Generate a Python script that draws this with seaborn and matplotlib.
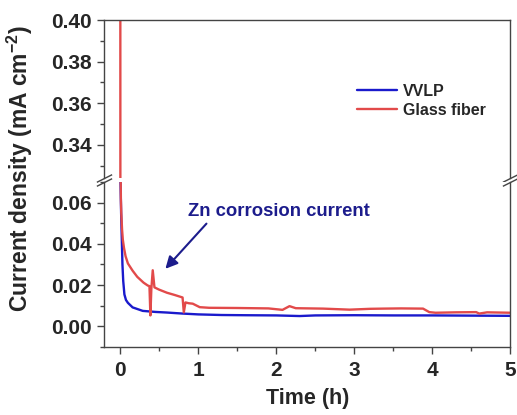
import pandas as pd
import seaborn as sns
import matplotlib.pyplot as plt
from matplotlib.ticker import MultipleLocator

# VVLP separator (blue)
time_vvlp = [0.0, 0.013, 0.022, 0.03, 0.04, 0.055, 0.075, 0.1, 0.16, 0.29, 0.45,
             0.6, 0.8, 1.0, 1.3, 1.6, 2.0, 2.3, 2.5, 3.0, 3.5, 4.0, 4.5, 5.0]
cur_vvlp = [0.08, 0.055, 0.042, 0.030, 0.022, 0.0155, 0.0128, 0.0114, 0.0092, 0.0075, 0.0070,
            0.0067, 0.0062, 0.0058, 0.0055, 0.0054, 0.0053, 0.0050, 0.0053, 0.0054, 0.0053, 0.0053, 0.0052, 0.0051]

# Glass fiber separator (red)
time_gf = [0.0, 0.005, 0.01, 0.015, 0.025, 0.035, 0.05, 0.07, 0.1, 0.16, 0.22, 0.3, 0.354,
           0.376, 0.388, 0.40, 0.418, 0.44, 0.5, 0.6, 0.7, 0.80, 0.816, 0.837, 0.88, 0.93,
           1.02, 1.14, 1.5, 1.9, 2.08, 2.17, 2.25, 2.6, 2.94, 3.2, 3.37, 3.6, 3.88, 3.96,
           4.04, 4.3, 4.56, 4.6, 4.7, 5.0]
cur_gf = [0.9, 0.08, 0.062, 0.055, 0.047, 0.042, 0.038, 0.034, 0.0305, 0.027, 0.0240, 0.0212, 0.0198,
          0.0195, 0.0053, 0.018, 0.0272, 0.0189, 0.0178, 0.0163, 0.0152, 0.0140, 0.0068, 0.0116, 0.0112, 0.0110,
          0.0093, 0.0090, 0.0089, 0.0087, 0.0080, 0.0098, 0.0088, 0.0086, 0.0081, 0.0085, 0.0086, 0.0087, 0.0086, 0.0069,
          0.0066, 0.0068, 0.0069, 0.0062, 0.0068, 0.0066]

sample_names = ["VVLP", "Glass fiber"]
sample_colors = ["#1a1acc", "#e24a4a"]

top_ticks = [0.34, 0.36, 0.38, 0.40]
bot_ticks = [0.00, 0.02, 0.04, 0.06]
x_ticks = [0, 1, 2, 3, 4, 5]

df = pd.concat([
    pd.DataFrame({"time": time_vvlp, "current": cur_vvlp, "sample": sample_names[0]}),
    pd.DataFrame({"time": time_gf, "current": cur_gf, "sample": sample_names[1]}),
])

sns.set_style("ticks")
plt.rcParams['font.family'] = ['Liberation Sans', 'DejaVu Sans']
plt.rcParams['font.weight'] = 'bold'
plt.rcParams['axes.labelweight'] = 'bold'
plt.rcParams['mathtext.default'] = 'regular'

fig = plt.figure(figsize=(5.17, 4.15), dpi=100)
ax_top = fig.add_axes([0.2021, 0.5711, 0.7853, 0.3807])
ax_bot = fig.add_axes([0.2021, 0.1639, 0.7853, 0.3976])

for ax in (ax_top, ax_bot):
    sns.lineplot(data=df, x="time", y="current", hue="sample", hue_order=sample_names,
                 palette=sample_colors, estimator=None, sort=False, lw=1.7,
                 ax=ax, legend=(ax is ax_top))
    ax.set_xlim(-0.2, 5.0)
    ax.set_xlabel("")
    ax.set_ylabel("")
    for sp in ax.spines.values():
        sp.set_color("#444444")
        sp.set_linewidth(1.0)
    ax.tick_params(which='major', direction='out', length=5, width=1, color='#444444',
                   labelsize=15, pad=4)
    ax.tick_params(which='minor', direction='out', length=3, width=1, color='#444444')

ax_top.set_ylim(0.324, 0.40)
ax_top.set_yticks(top_ticks)
ax_top.yaxis.set_minor_locator(MultipleLocator(0.01))
ax_top.spines['bottom'].set_visible(False)
ax_top.tick_params(axis='x', which='both', bottom=False, labelbottom=False)
ax_top.set_yticklabels([f"{v:.2f}" for v in top_ticks])

ax_bot.set_ylim(-0.01, 0.070)
ax_bot.set_yticks(bot_ticks)
ax_bot.yaxis.set_minor_locator(MultipleLocator(0.01))
ax_bot.set_yticklabels([f"{v:.2f}" for v in bot_ticks])
ax_bot.spines['top'].set_visible(False)
ax_bot.set_xticks(x_ticks)
ax_bot.xaxis.set_minor_locator(MultipleLocator(0.5))
ax_bot.tick_params(axis='x', which='major', pad=5)
ax_bot.set_xlabel("Time (h)", fontsize=15.5, labelpad=6)

# break marks
d = 0.5
kw = dict(marker=[(-1, -d), (1, d)], markersize=11, linestyle="none",
          color='#444444', mec='#444444', mew=1, clip_on=False)
ax_top.plot([0, 1], [0, 0], transform=ax_top.transAxes, **kw)
ax_bot.plot([0, 1], [1, 1], transform=ax_bot.transAxes, **kw)

fig.text(0.039, 0.593, "Current density (mA cm$^{-2}$)", rotation=90,
         ha='center', va='center', fontsize=16.5, fontweight='bold')

sns.move_legend(ax_top, loc='center left', bbox_to_anchor=(0.6905, 1 - 101 / 415),
                bbox_transform=fig.transFigure, frameon=False, title=None,
                fontsize=11.5, handlelength=2.5, handletextpad=0.4,
                labelspacing=0.25, borderpad=0, borderaxespad=0)

ax_bot.text(0.865, 0.0556, "Zn corrosion current", color="#1c1c8c",
            fontsize=13.3, fontweight='bold', ha='left', va='center')
ax_bot.annotate("", xy=(0.58, 0.0279), xytext=(1.106, 0.0498),
                arrowprops=dict(arrowstyle='-|>', color="#1c1c8c", lw=1.5,
                                mutation_scale=18, shrinkA=0, shrinkB=0))

fig.savefig("out.png", dpi=100)
